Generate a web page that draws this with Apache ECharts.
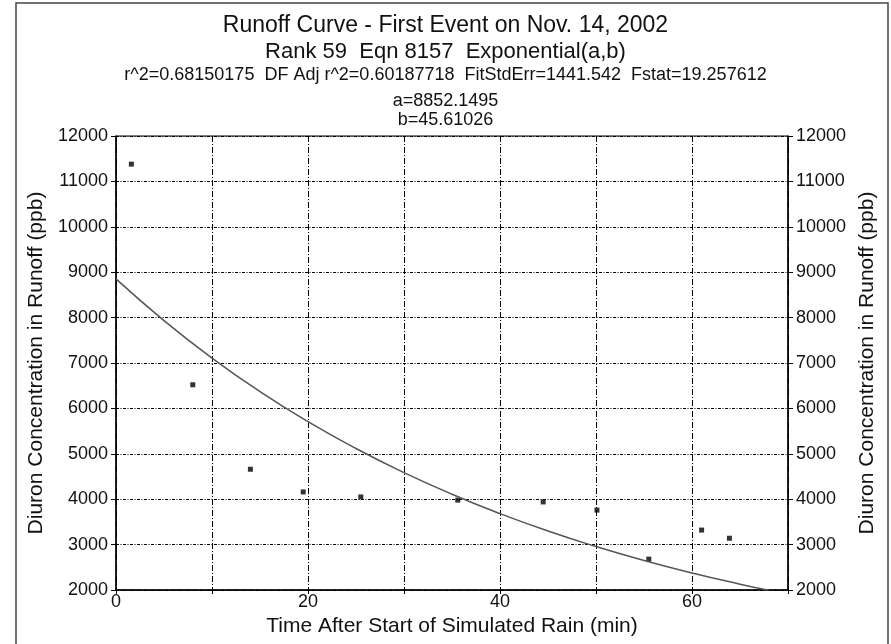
<!DOCTYPE html>
<html>
<head>
<meta charset="utf-8">
<title>Runoff Curve</title>
<script src="https://cdn.jsdelivr.net/npm/echarts@6/dist/echarts.min.js"></script>
<style>
  html, body { margin: 0; padding: 0; background: #fff; }
  #main { width: 891px; height: 644px; }
</style>
</head>
<body>
<div id="main"></div>
<script>
// measured points (time in min, diuron in ppb)
const obsTime = [1.6, 8.0, 14.0, 19.5, 25.5, 35.6, 44.5, 50.1, 55.5, 61.0, 63.9]
const obsConc = [11380, 6520, 4660, 4160, 4050, 3980, 3940, 3760, 2680, 3320, 3140]

// fitted curve
const fitTime = [0, 5, 10, 15, 20, 25, 30, 35, 40, 45, 50, 55, 60, 65, 68]
const fitConc = [8852, 7933, 7109, 6371, 5709, 5117, 4585, 4109, 3683, 3300, 2957, 2650, 2375, 2129, 1994]

const xTicks = [0, 20, 40, 60]

const titleLines = [
  'Runoff Curve - First Event on Nov. 14, 2002',
  'Rank 59  Eqn 8157  Exponential(a,b)',
  'r^2=0.68150175  DF Adj r^2=0.60187718  FitStdErr=1441.542  Fstat=19.257612',
  'a=8852.1495',
  'b=45.61026'
]

const font = "'Liberation Sans', Arial, sans-serif"
const titleTops = [14, 41, 66, 92, 111]
const titleSizes = [23, 22, 18, 18, 18]

const myChart = echarts.init(document.getElementById('main'))

const yLabel = { fontFamily: font, fontSize: 18, color: '#111', margin: 8, formatter: (v) => String(v) }

const option = {
  backgroundColor: '#fff',
  animation: false,
  title: titleLines.map((t, i) => ({
    text: t,
    left: 'center',
    top: titleTops[i],
    padding: 0,
    textStyle: { fontFamily: font, fontSize: titleSizes[i], fontWeight: 'normal', color: '#111' }
  })),
  graphic: [
    {
      type: 'rect',
      shape: { x: 16, y: 3, width: 872, height: 700 },
      style: { fill: 'none', stroke: '#444', lineWidth: 1.5 },
      silent: true
    }
  ],
  grid: {
    left: 116,
    right: 103,
    top: 136,
    bottom: 54,
    show: true,
    borderColor: '#000',
    borderWidth: 1
  },
  xAxis: {
    type: 'value',
    min: 0,
    max: 70,
    interval: 10,
    name: 'Time After Start of Simulated Rain (min)',
    nameLocation: 'middle',
    nameGap: 24,
    nameTextStyle: { fontFamily: font, fontSize: 21, color: '#111' },
    axisLine: { show: true, onZero: false, lineStyle: { color: '#000', width: 1.5 } },
    axisTick: { show: true, inside: false, length: 4, lineStyle: { color: '#000' } },
    axisLabel: {
      fontFamily: font,
      fontSize: 18,
      color: '#111',
      margin: 3,
      formatter: (v) => (xTicks.includes(v) ? String(v) : '')
    },
    splitLine: {
      show: true,
      lineStyle: { color: '#000', width: 1, type: [6, 2, 1, 2] }
    }
  },
  yAxis: [
    {
      type: 'value',
      position: 'left',
      min: 2000,
      max: 12000,
      interval: 1000,
      name: 'Diuron Concentration in Runoff (ppb)',
      nameLocation: 'middle',
      nameRotate: 90,
      nameGap: 64,
      nameTextStyle: { fontFamily: font, fontSize: 21, color: '#111' },
      axisLine: { show: true, onZero: false, lineStyle: { color: '#000', width: 1.5 } },
      axisTick: { show: true, length: 5, lineStyle: { color: '#000' } },
      axisLabel: yLabel,
      splitLine: {
        show: true,
        lineStyle: { color: '#000', width: 1, type: [3, 1.5, 1, 1.5] }
      }
    },
    {
      type: 'value',
      position: 'right',
      min: 2000,
      max: 12000,
      interval: 1000,
      name: 'Diuron Concentration in Runoff (ppb)',
      nameLocation: 'middle',
      nameRotate: 90,
      nameGap: 62,
      nameTextStyle: { fontFamily: font, fontSize: 21, color: '#111' },
      axisLine: { show: true, onZero: false, lineStyle: { color: '#000', width: 1.5 } },
      axisTick: { show: true, length: 5, lineStyle: { color: '#000' } },
      axisLabel: yLabel,
      splitLine: { show: false }
    }
  ],
  series: [
    {
      name: 'fit',
      type: 'line',
      smooth: true,
      showSymbol: false,
      clip: true,
      yAxisIndex: 0,
      lineStyle: { color: '#555', width: 1.5 },
      data: fitTime.map((t, i) => [t, fitConc[i]])
    },
    {
      name: 'observed',
      type: 'scatter',
      symbol: 'rect',
      symbolSize: 5,
      yAxisIndex: 0,
      itemStyle: { color: '#000' },
      data: obsTime.map((t, i) => [t, obsConc[i]])
    }
  ]
}

myChart.setOption(option)
</script>
</body>
</html>
